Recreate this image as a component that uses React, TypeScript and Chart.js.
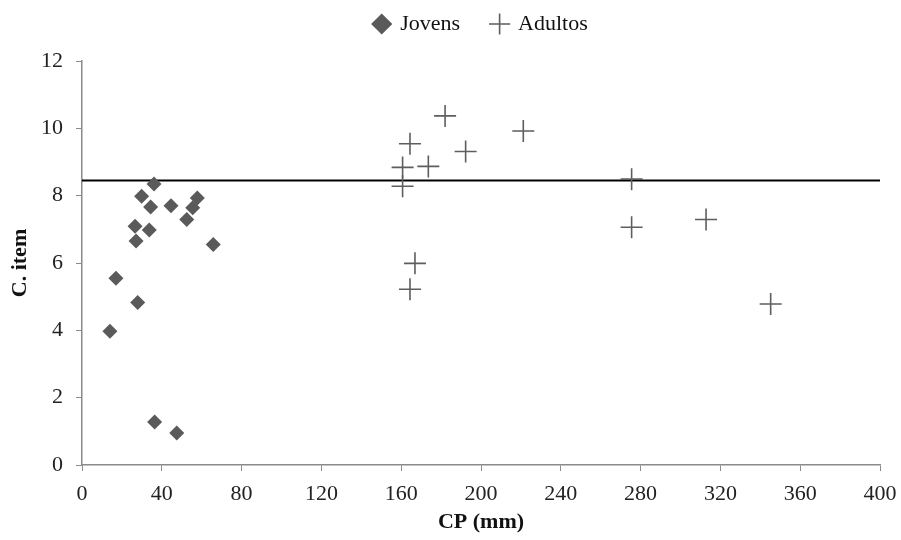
import React, { useEffect, useRef } from "react";
import { Chart, registerables } from "chart.js";

Chart.register(...registerables);

const jovensX = [14.0, 17.0, 27.9, 36.4, 47.5, 36.1, 29.9, 34.4, 44.6, 57.8, 55.5, 52.5, 26.6, 33.7, 27.1, 65.8];
const jovensY = [3.97, 5.55, 4.83, 1.28, 0.95, 8.35, 7.98, 7.66, 7.7, 7.93, 7.64, 7.29, 7.09, 6.98, 6.65, 6.55];

const adultosX = [182.0, 221.2, 164.4, 192.3, 173.6, 160.7, 160.7, 166.9, 164.4, 275.5, 275.5, 312.8, 345.2];
const adultosY = [10.37, 9.92, 9.54, 9.31, 8.87, 8.84, 8.28, 5.99, 5.22, 8.49, 7.06, 7.29, 4.78];

const refLineX = [0, 400];
const refLineY = [8.45, 8.45];

const seriesNames = ["Jovens", "Adultos"];
const xTitle = "CP (mm)";
const yTitle = "C. item";

const FONT = "'Liberation Serif', 'Times New Roman', serif";
const AXIS_GRAY = "#8a8a8a";

function toPoints(xs: number[], ys: number[]) {
  return xs.map((x, i) => ({ x, y: ys[i] }));
}

const legendSpacer = {
  id: "legendSpacer",
  beforeUpdate(chart: any) {
    const lg = chart.legend;
    if (lg && !lg.__patched) {
      const orig = lg.fit.bind(lg);
      lg.fit = function () {
        orig();
        this.height += 16;
      };
      lg.__patched = true;
    }
  },
};

export default function App() {
  const ref = useRef<HTMLCanvasElement | null>(null);

  useEffect(() => {
    if (!ref.current) return;
    const chart = new Chart(ref.current, {
      type: "scatter",
      data: {
        datasets: [
          {
            label: seriesNames[0],
            data: toPoints(jovensX, jovensY),
            pointStyle: "rectRot",
            pointRadius: 7.5,
            pointHoverRadius: 7.5,
            backgroundColor: "#5a5a5a",
            borderColor: "#5a5a5a",
            borderWidth: 0,
          },
          {
            label: seriesNames[1],
            data: toPoints(adultosX, adultosY),
            pointStyle: "cross",
            pointRadius: 11,
            pointHoverRadius: 11,
            backgroundColor: "#5e5e5e",
            borderColor: "#5e5e5e",
            borderWidth: 1.6,
          },
          {
            label: "ref",
            type: "line",
            data: toPoints(refLineX, refLineY),
            showLine: true,
            pointRadius: 0,
            borderColor: "#000000",
            borderWidth: 2,
            fill: false,
          } as any,
        ],
      },
      options: {
        responsive: false,
        animation: false,
        layout: { padding: { left: 0, right: 21, top: -19, bottom: 0 } },
        plugins: {
          tooltip: { enabled: false },
          legend: {
            position: "top",
            fullSize: false,
            labels: {
              usePointStyle: true,
              boxWidth: 15,
              boxHeight: 15,
              padding: 32,
              color: "#111",
              font: { family: FONT, size: 22 },
              filter: (item: any) => item.text !== "ref",
            },
          },
        },
        scales: {
          x: {
            type: "linear",
            min: 0,
            max: 400,
            ticks: {
              stepSize: 40,
              color: "#222",
              padding: 10,
              font: { family: FONT, size: 22 },
            },
            grid: {
              display: true,
              drawOnChartArea: false,
              drawTicks: true,
              tickLength: 6,
              color: AXIS_GRAY,
            },
            border: { display: true, color: AXIS_GRAY, width: 1.5 },
            title: {
              display: true,
              text: xTitle,
              color: "#111",
              font: { family: FONT, size: 22, weight: "bold" },
              padding: { top: 0, bottom: 4 },
            },
            afterFit: (scale: any) => {
              scale.height = 75;
              scale.paddingLeft = 0;
              scale.paddingRight = 0;
            },
          },
          y: {
            type: "linear",
            min: 0,
            max: 12,
            ticks: {
              stepSize: 2,
              color: "#222",
              padding: 13,
              font: { family: FONT, size: 22 },
            },
            grid: {
              display: true,
              drawOnChartArea: false,
              drawTicks: true,
              tickLength: 6,
              color: AXIS_GRAY,
            },
            border: { display: true, color: AXIS_GRAY, width: 1.5 },
            title: {
              display: true,
              text: yTitle,
              color: "#111",
              font: { family: FONT, size: 22, weight: "bold" },
              padding: { top: 7, bottom: 0 },
            },
            afterFit: (scale: any) => {
              scale.width = 82;
            },
          },
        },
      },
      plugins: [legendSpacer],
    });
    return () => chart.destroy();
  }, []);

  return (
    <div style={{ position: "fixed", left: 0, top: 0, width: 901, height: 540, background: "#fff" }}>
      <canvas ref={ref} width={901} height={540} />
    </div>
  );
}
